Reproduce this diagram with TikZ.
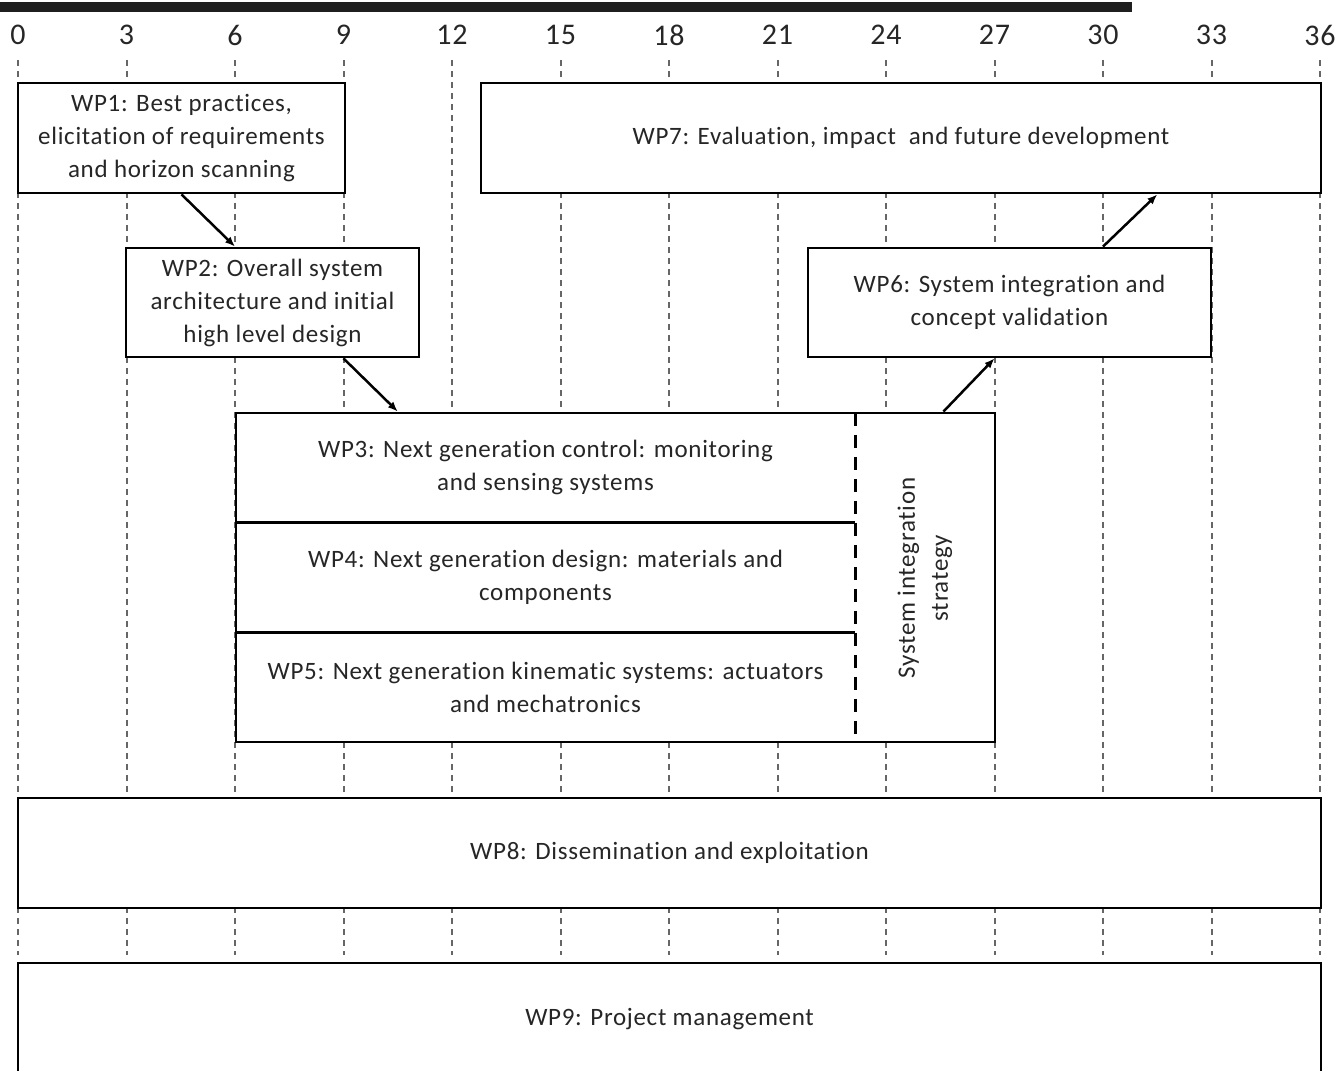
\documentclass[tikz,border=0pt]{standalone}
\usepackage{fontspec}
\setmainfont{Carlito}[LetterSpace=2.8, Ligatures=NoCommon]
\usetikzlibrary{arrows.meta}
\begin{document}
\begin{tikzpicture}[x=1pt,y=-1pt,
  wpbox/.style={draw=black, line width=2.8pt, fill=white, align=center, inner sep=0pt,
    text=black!85, font=\fontsize{25}{33}\selectfont},
  wptext/.style={align=center, inner sep=0pt, text=black!85, font=\fontsize{25}{33}\selectfont},
  gridline/.style={draw=black!60, line width=2pt, dash pattern=on 6pt off 5pt},
  divider/.style={draw=black, line width=2.8pt, dash pattern=on 13pt off 9pt},
  sepline/.style={draw=black, line width=2.8pt},
  arr/.style={-{Latex[length=10pt,width=8pt]}, line width=2.5pt, draw=black},
  monthlbl/.style={inner sep=0pt, text=black!85, font=\fontsize{30}{30}\selectfont}]
\useasboundingbox (0,0) rectangle (1339,1071);
% top bar
\fill[black!88] (0,2) rectangle (1132,12);
% month axis and grid
\foreach \m in {0,3,...,36}{
  \coordinate (m\m) at ({18+\m*36.1667},35);
  \node[monthlbl] (lbl\m) at (m\m) {\m};
  \draw[gridline] ({18+\m*36.1667},60) -- ({18+\m*36.1667},955);
}
\coordinate (m10h) at (397.8,35);
\coordinate (m31h) at (1157.3,35);
% work packages
\node[wpbox, minimum width=327pt, minimum height=110pt] (wp1) at (181.5,138)
  {WP1: Best practices,\\elicitation of requirements\\and horizon scanning};
\node[wpbox, minimum width=840pt, minimum height=110pt] (wp7) at (901,138)
  {WP7: Evaluation, impact\ \ and future development};
\node[wpbox, minimum width=293pt, minimum height=109pt] (wp2) at (272.5,302.5)
  {WP2: Overall system\\architecture and initial\\high level design};
\node[wpbox, minimum width=403pt, minimum height=109pt] (wp6) at (1009.5,302.5)
  {WP6: System integration and\\concept validation};
% block WP3-WP5
\node[wpbox, minimum width=759pt, minimum height=329pt] (big) at (615.5,577.5) {};
\node[wptext, minimum width=619pt, minimum height=109.7pt] (wp3) at (545.5,467.8)
  {WP3: Next generation control: monitoring\\and sensing systems};
\node[wptext, minimum width=619pt, minimum height=109.7pt] (wp4) at (545.5,577.5)
  {WP4: Next generation design: materials and\\components};
\node[wptext, minimum width=619pt, minimum height=109.7pt] (wp5) at (545.5,687.2)
  {WP5: Next generation kinematic systems: actuators\\and mechatronics};
\draw[sepline] (wp3.south west) -- (wp3.south east);
\draw[sepline] (wp4.south west) -- (wp4.south east);
\draw[divider] (wp3.north east) -- (wp5.south east);
\node[wptext, rotate=90] (sis) at (925,578) {System integration\\strategy};
% WP8 and WP9
\node[wpbox, minimum width=1303pt, minimum height=110pt] (wp8) at (669.5,853)
  {WP8: Dissemination and exploitation};
\node[wpbox, minimum width=1303pt, minimum height=160pt] (wp9) at (669.5,1043) {};
\node[wptext] (wp9t) at (669.5,1019) {WP9: Project management};
% arrows
\draw[arr] (wp1.south) -- (wp2.north -| m6);
\draw[arr] (wp2.south -| m9) -- (big.north -| m10h);
\draw[arr] ([xshift=-53pt]big.north east) -- (wp6.south -| m27);
\draw[arr] (wp6.north -| m30) -- (wp7.south -| m31h);
\end{tikzpicture}
\end{document}
